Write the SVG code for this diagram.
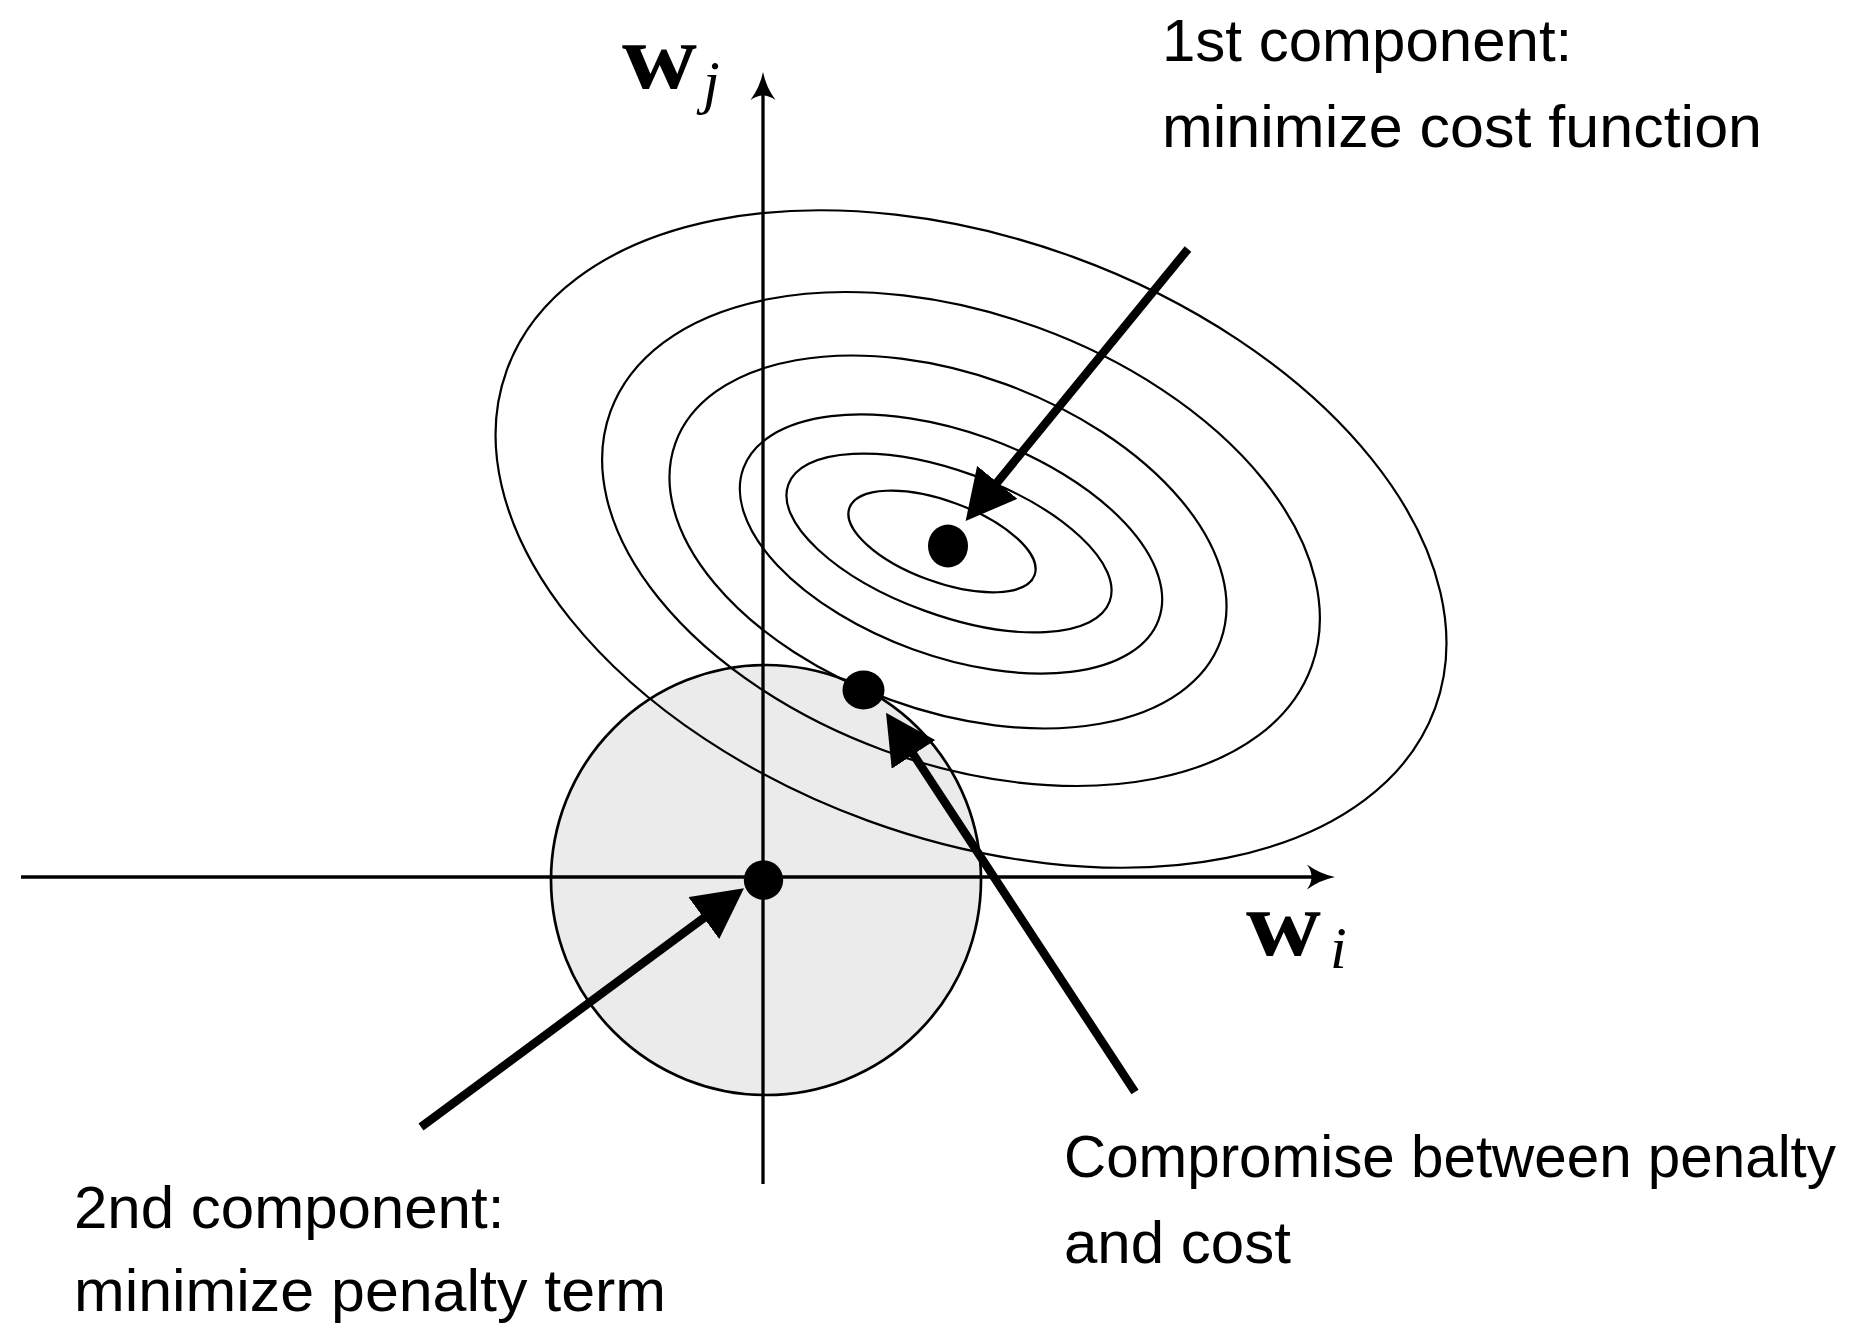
<svg xmlns="http://www.w3.org/2000/svg" width="1870" height="1325" viewBox="0 0 1870 1325">
<style>
.lbl{font-family:"Liberation Sans","DejaVu Sans",sans-serif;font-size:60px;fill:#000}
.mb{font-family:"Liberation Serif","DejaVu Serif",serif;font-weight:bold;font-size:94px;fill:#000}
.mi{font-family:"Liberation Serif","DejaVu Serif",serif;font-style:italic;font-size:60px;fill:#000}
.contour{fill:none;stroke:#000;stroke-width:2.2}
.axis{stroke:#000;stroke-width:3.3;fill:none}
.arrow{stroke:#000;stroke-width:8.5;fill:none}
.dot{fill:#000}
</style>
<defs>
<marker id="ah" markerUnits="userSpaceOnUse" viewBox="0 0 50 52" refX="5" refY="26" markerWidth="50" markerHeight="52" orient="auto"><path d="M0,0 L50,26 L0,52 z" fill="#000"/></marker>
<marker id="ax" markerUnits="userSpaceOnUse" viewBox="0 -14 28 28" refX="14" refY="0" markerWidth="28" markerHeight="28" orient="auto"><path d="M0,-12.5 Q13,-3 28,0 Q13,3 0,12.5 Q9,0 0,-12.5 z" fill="#000"/></marker>
</defs>
<rect width="1870" height="1325" fill="#fff"/>
<g id="penalty-region">
<circle cx="766" cy="880" r="215" fill="#ebebeb" stroke="#000" stroke-width="2.7"/>
</g>
<g id="cost-contours">
<ellipse class="contour" cx="971" cy="539" rx="494" ry="300" transform="rotate(20 971 539)" stroke-width="1.8"/>
<ellipse class="contour" cx="961" cy="539" rx="373" ry="225" transform="rotate(20 961 539)" stroke-width="2"/>
<ellipse class="contour" cx="948" cy="542" rx="290" ry="168" transform="rotate(20 948 542)"/>
<ellipse class="contour" cx="951" cy="544" rx="221" ry="112" transform="rotate(20 951 544)"/>
<ellipse class="contour" cx="949" cy="543" rx="171" ry="72" transform="rotate(20 949 543)"/>
<ellipse class="contour" cx="942" cy="541.5" rx="98.5" ry="40.5" transform="rotate(20 942 541.5)"/>
</g>
<g id="axes">
<line class="axis" x1="21" y1="877" x2="1321" y2="877" marker-end="url(#ax)"/>
<line class="axis" x1="763" y1="1184" x2="763" y2="86" marker-end="url(#ax)"/>
</g>
<g id="axis-label-wj">
<text class="mb" x="622" y="88" textLength="75" lengthAdjust="spacingAndGlyphs">w</text>
<text class="mi" x="703" y="102">j</text>
</g>
<g id="axis-label-wi">
<text class="mb" x="1246" y="955" textLength="75" lengthAdjust="spacingAndGlyphs">w</text>
<text class="mi" x="1330" y="968">i</text>
</g>
<g id="dot-cost-minimum"><ellipse class="dot" cx="948" cy="546" rx="20" ry="21.5"/></g>
<g id="dot-compromise"><ellipse class="dot" cx="863.5" cy="690" rx="21" ry="19.5"/></g>
<g id="dot-origin"><circle class="dot" cx="763.5" cy="880" r="19.7"/></g>
<g id="connectors">
<line class="arrow" x1="1188" y1="249" x2="994.1" y2="486.2" marker-end="url(#ah)"/>
<line class="arrow" x1="421" y1="1127" x2="707.8" y2="915" marker-end="url(#ah)"/>
<line class="arrow" x1="1135" y1="1092" x2="910.7" y2="750.3" marker-end="url(#ah)"/>
</g>
<g id="label-first">
<text class="lbl" x="1162" y="61">1st component:</text>
<text class="lbl" x="1162" y="147" textLength="600" lengthAdjust="spacingAndGlyphs">minimize cost function</text>
</g>
<g id="label-second">
<text class="lbl" x="74" y="1228">2nd component:</text>
<text class="lbl" x="74" y="1311" textLength="592" lengthAdjust="spacingAndGlyphs">minimize penalty term</text>
</g>
<g id="label-compromise">
<text class="lbl" x="1064" y="1177" textLength="772" lengthAdjust="spacingAndGlyphs">Compromise between penalty</text>
<text class="lbl" x="1064" y="1263">and cost</text>
</g>
</svg>
